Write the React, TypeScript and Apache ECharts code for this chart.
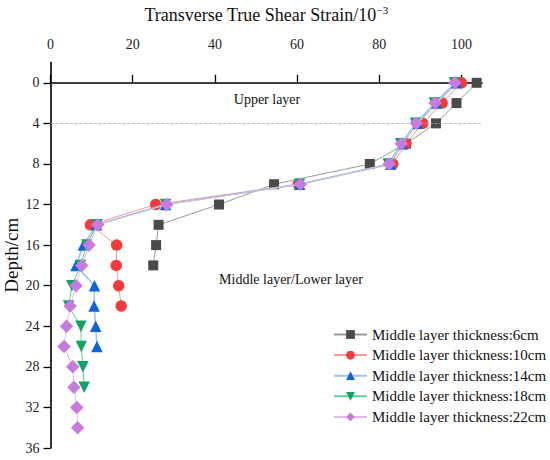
import React, { useEffect, useRef } from "react";
import * as echarts from "echarts";

const xTickValues = [0, 20, 40, 60, 80, 100];
const yTickValues = [0, 4, 8, 12, 16, 20, 24, 28, 32, 36];

const depth6 = [0, 2, 4, 6, 8, 10, 12, 14, 16, 18];
const strain6 = [103.7, 98.8, 93.8, 86.5, 77.7, 54.4, 41.0, 26.3, 25.7, 25.0];

const depth10 = [0, 2, 4, 6, 8, 10, 12, 14, 16, 18, 20, 22];
const strain10 = [100.0, 95.3, 90.6, 86.5, 83.3, 60.3, 25.6, 9.7, 16.1, 16.0, 16.6, 17.2];

const depth14 = [0, 2, 4, 6, 8, 10, 12, 14, 16, 18, 20, 22, 24, 26];
const strain14 = [98.8, 93.9, 89.3, 85.6, 82.8, 60.6, 28.0, 11.2, 8.0, 6.2, 10.7, 10.6, 11.0, 11.3];

const depth18 = [0, 2, 4, 6, 8, 10, 12, 14, 16, 18, 20, 22, 24, 26, 28, 30];
const strain18 = [98.3, 93.4, 88.8, 85.2, 82.2, 60.6, 28.0, 11.3, 8.8, 7.3, 5.2, 4.4, 7.4, 7.5, 7.9, 8.2];

const depth22 = [0, 2, 4, 6, 8, 10, 12, 14, 16, 18, 20, 22, 24, 26, 28, 30, 32, 34];
const strain22 = [98.4, 93.6, 89.0, 85.4, 82.4, 60.8, 28.3, 11.5, 9.4, 7.6, 6.2, 4.8, 3.9, 3.3, 5.4, 5.7, 6.4, 6.6];

const seriesNames = [
  "Middle layer thickness:6cm",
  "Middle layer thickness:10cm",
  "Middle layer thickness:14cm",
  "Middle layer thickness:18cm",
  "Middle layer thickness:22cm",
];

const FONT = "Liberation Serif";

function pairs(xs: number[], ys: number[]) {
  return xs.map((x, i) => [x, ys[i]]);
}

export default function App() {
  const ref = useRef<HTMLDivElement>(null);
  useEffect(() => {
    const chart = echarts.init(ref.current!, null, { renderer: "svg" });
    const styles = [
      { symbol: "rect", color: "#4a4a4a", line: "#9a9a9a", size: 10, rotate: 0 },
      { symbol: "circle", color: "#f23c3c", line: "#f59a9a", size: 11.5, rotate: 0 },
      { symbol: "triangle", color: "#0a64dc", line: "#9ec4f2", size: 11.5, rotate: 0 },
      { symbol: "triangle", color: "#10a462", line: "#5ccf9c", size: 11.5, rotate: 180 },
      { symbol: "diamond", color: "#c77ae0", line: "#e2b8f2", size: 13.5, rotate: 0 },
    ];
    const datasets = [
      pairs(strain6, depth6),
      pairs(strain10, depth10),
      pairs(strain14, depth14),
      pairs(strain18, depth18),
      pairs(strain22, depth22),
    ];
    const series: any[] = datasets.map((d, i) => ({
      type: "line",
      name: seriesNames[i],
      data: d,
      symbol: styles[i].symbol,
      symbolSize: styles[i].size,
      symbolRotate: styles[i].rotate,
      itemStyle: { color: styles[i].color },
      lineStyle: { color: styles[i].line, width: i === 2 ? 1.6 : 1 },
      z: 2 + i,
    }));
    series[0].markLine = {
      silent: true,
      symbol: ["none", "none"],
      label: { show: false },
      lineStyle: { color: "#aaaaaa", type: "dashed", width: 0.8 },
      data: [{ yAxis: 4 }],
    };

    chart.setOption({
      animation: false,
      textStyle: { fontFamily: FONT },
      grid: { left: 50.5, right: 68, top: 62.5, bottom: 12, containLabel: false, outerBoundsMode: "none" },
      xAxis: {
        type: "value",
        position: "top",
        min: 0,
        max: 105,
        name: "{a|Transverse True Shear Strain/10}{b|−3}",
        nameLocation: "middle",
        nameGap: 37,
        nameMoveOverlap: false,
        nameTextStyle: {
          rich: {
            a: { fontFamily: FONT, fontSize: 18, color: "#111" },
            b: { fontFamily: FONT, fontSize: 11, color: "#111", verticalAlign: "top", padding: [0, 0, 10, 0] },
          },
        },
        axisLine: { show: true, lineStyle: { color: "#000", width: 1.6 } },
        axisTick: { show: true, length: 8, inside: false, customValues: xTickValues, lineStyle: { color: "#000", width: 1.3 } },
        axisLabel: { fontFamily: FONT, fontSize: 14, color: "#222", margin: 11, customValues: xTickValues },
        splitLine: { show: false },
      },
      yAxis: {
        type: "value",
        inverse: true,
        min: -2,
        max: 36,
        name: "Depth/cm",
        nameLocation: "middle",
        nameGap: 30,
        nameMoveOverlap: false,
        nameRotate: 90,
        nameTextStyle: { fontFamily: FONT, fontSize: 19, color: "#111" },
        axisLine: { show: true, onZero: false, lineStyle: { color: "#000", width: 1.6 } },
        axisTick: { show: true, length: 7, inside: false, customValues: yTickValues, lineStyle: { color: "#000", width: 1.3 } },
        axisLabel: { fontFamily: FONT, fontSize: 14, color: "#222", margin: 11, customValues: yTickValues },
        splitLine: { show: false },
      },
      legend: {
        orient: "vertical",
        left: 333,
        top: 327,
        padding: 0,
        itemWidth: 33,
        itemHeight: 11,
        itemGap: 5.6,
        textStyle: { fontFamily: FONT, fontSize: 15, color: "#111" },
        data: seriesNames,
      },
      graphic: [
        {
          type: "text",
          x: 267,
          y: 99,
          style: { text: "Upper layer", font: `14px "${FONT}"`, fill: "#111", align: "center", verticalAlign: "middle" },
        },
        {
          type: "text",
          x: 291,
          y: 279,
          style: { text: "Middle layer/Lower layer", font: `14px "${FONT}"`, fill: "#111", align: "center", verticalAlign: "middle" },
        },
      ],
      series,
    });
    return () => chart.dispose();
  }, []);
  return <div ref={ref} style={{ position: "fixed", left: 0, top: 0, width: 550, height: 460, background: "#fff" }} />;
}
